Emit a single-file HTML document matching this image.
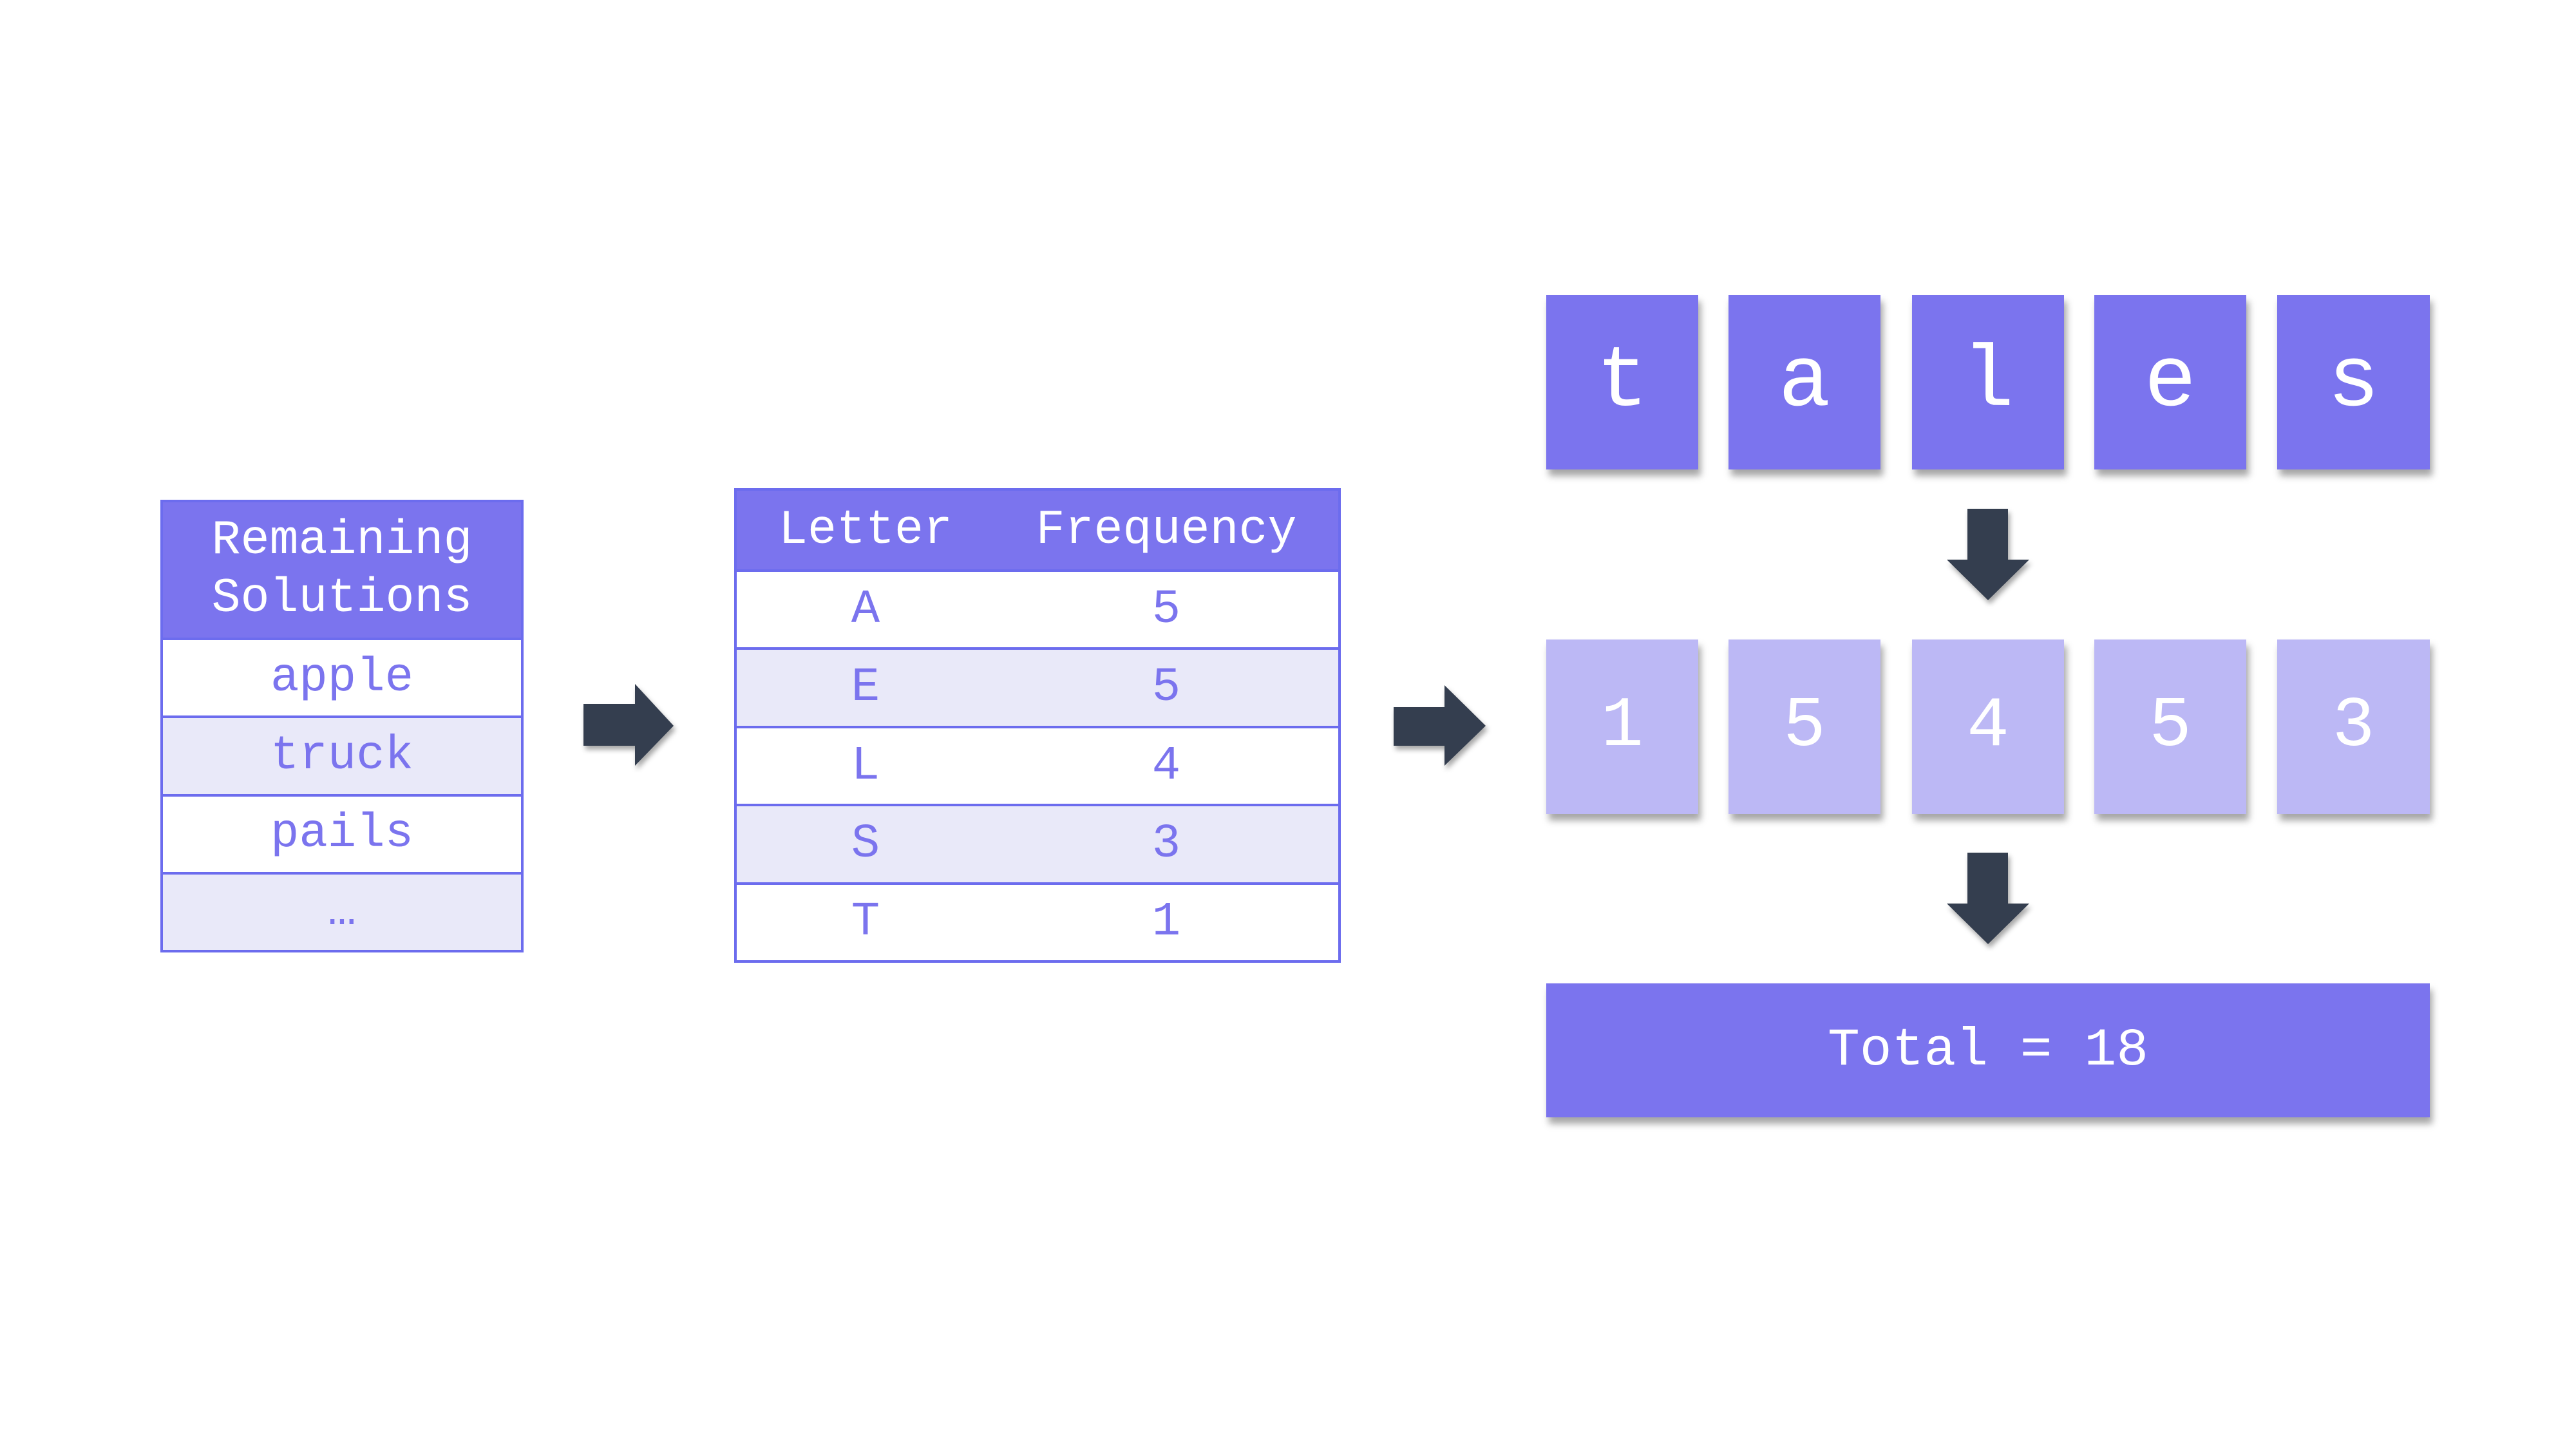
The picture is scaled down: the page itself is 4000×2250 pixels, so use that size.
<!DOCTYPE html>
<html><head><meta charset="utf-8"><style>
html,body{margin:0;padding:0;background:#fff}
body{width:4000px;height:2250px;position:relative;overflow:hidden;font-family:"Liberation Mono",monospace}
.a{position:absolute;box-sizing:border-box}
.tbl{border:4px solid #6c6cee}
.hd{background:#7b74ee;color:#fff}
.row{border-top:4px solid #6c6cee;color:#7b74ee;display:flex;align-items:center;justify-content:center;font-size:74px}
.alt{background:#e9e9f9}
.tile{background:#7b74ee;color:#fff;display:flex;align-items:center;justify-content:center;font-size:135px;box-shadow:4px 10px 10px rgba(0,0,0,0.35)}
.lt{background:#bcb8f5;font-size:110px}
.c1{flex:0 0 400px;text-align:center}
.c2{flex:1;text-align:center}
.ft .row,.ft .hd{justify-content:flex-start}
</style></head><body>
<div class="a tbl" style="left:249px;top:776px;width:564px;height:703px;display:flex;flex-direction:column">
 <div class="hd" style="height:210px;display:flex;align-items:center;justify-content:center;text-align:center;font-size:75px;line-height:90px">Remaining<br>Solutions</div>
 <div class="row" style="flex:1">apple</div>
 <div class="row alt" style="flex:1">truck</div>
 <div class="row" style="flex:1">pails</div>
 <div class="row alt" style="flex:1">…</div>
</div>
<svg class="a" style="left:900px;top:1055px" width="160" height="150"><path d="M6 38 H86 V7 L146 72 L86 134 V103 H6 Z" fill="#343e4f" style="filter:drop-shadow(3px 6px 4px rgba(0,0,0,0.35))"/></svg>
<div class="a tbl ft" style="left:1140px;top:758px;width:942px;height:737px;display:flex;flex-direction:column">
 <div class="hd" style="height:122px;display:flex;align-items:center;font-size:75px"><span class="c1">Letter</span><span class="c2">Frequency</span></div>
 <div class="row" style="flex:1"><span class="c1">A</span><span class="c2">5</span></div>
 <div class="row alt" style="flex:1"><span class="c1">E</span><span class="c2">5</span></div>
 <div class="row" style="flex:1"><span class="c1">L</span><span class="c2">4</span></div>
 <div class="row alt" style="flex:1"><span class="c1">S</span><span class="c2">3</span></div>
 <div class="row" style="flex:1"><span class="c1">T</span><span class="c2">1</span></div>
</div>
<svg class="a" style="left:2160px;top:1055px" width="160" height="150"><path d="M4 43 H83 V9 L147 72 L83 134 V103 H4 Z" fill="#343e4f" style="filter:drop-shadow(3px 6px 4px rgba(0,0,0,0.35))"/></svg>
<div class="a tile" style="left:2401px;top:458px;width:236px;height:271px">t</div>
<div class="a tile" style="left:2684px;top:458px;width:236px;height:271px">a</div>
<div class="a tile" style="left:2969px;top:458px;width:236px;height:271px">l</div>
<div class="a tile" style="left:3252px;top:458px;width:236px;height:271px">e</div>
<div class="a tile" style="left:3536px;top:458px;width:237px;height:271px">s</div>
<svg class="a" style="left:3015px;top:785px" width="150" height="160"><path d="M40 5 H103 V84 H136 L72 147 L8 84 H40 Z" fill="#343e4f" style="filter:drop-shadow(3px 6px 4px rgba(0,0,0,0.35))"/></svg>
<div class="a tile lt" style="left:2401px;top:993px;width:236px;height:271px">1</div>
<div class="a tile lt" style="left:2684px;top:993px;width:236px;height:271px">5</div>
<div class="a tile lt" style="left:2969px;top:993px;width:236px;height:271px">4</div>
<div class="a tile lt" style="left:3252px;top:993px;width:236px;height:271px">5</div>
<div class="a tile lt" style="left:3536px;top:993px;width:237px;height:271px">3</div>
<svg class="a" style="left:3015px;top:1319px" width="150" height="160"><path d="M40 5 H103 V84 H136 L72 147 L8 84 H40 Z" fill="#343e4f" style="filter:drop-shadow(3px 6px 4px rgba(0,0,0,0.35))"/></svg>
<div class="a tile" style="left:2401px;top:1527px;width:1372px;height:208px;font-size:83px;white-space:pre">Total = 18</div>
</body></html>
